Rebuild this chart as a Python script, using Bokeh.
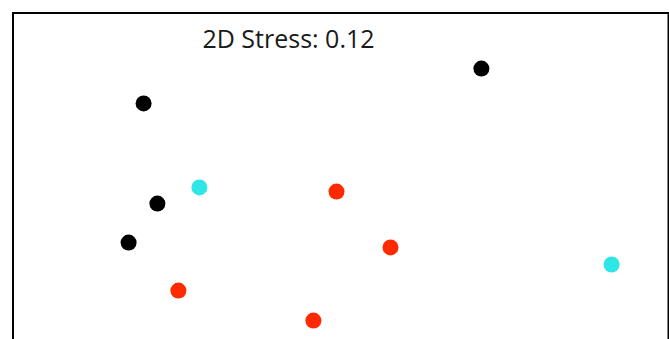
from bokeh.plotting import figure
from bokeh.models import ColumnDataSource, Range1d
from bokeh.core.properties import value
from bokeh.embed import file_html
from bokeh.resources import INLINE

# NMDS ordination scores per sample, grouped by treatment
black_x = [0.488, -0.638, -0.592, -0.688]
black_y = [0.338, 0.222, -0.112, -0.242]
cyan_x = [-0.452, 0.922]
cyan_y = [-0.058, -0.315]
red_x = [0.005, 0.185, -0.522, -0.072]
red_y = [-0.072, -0.258, -0.402, -0.502]

stress_label = "2D Stress: 0.12"
stress_pos = (-0.155, 0.439)

# plotting panel limits
x_lo, x_hi = -1.115, 1.115
y_lo, y_hi = -0.565, 0.565
box_left, box_right, box_top = -1.0733, 1.1117, 0.5233

p = figure(width=669, height=339, output_backend="svg", toolbar_location=None,
           x_range=Range1d(x_lo, x_hi), y_range=Range1d(y_lo, y_hi),
           min_border_left=0, min_border_right=0, min_border_top=0, min_border_bottom=0)
p.axis.visible = False
p.grid.visible = False
p.outline_line_color = None
p.background_fill_color = "white"
p.border_fill_color = "white"

# panel border (left, top, right edges; bottom runs past the page)
p.line(x=[box_left, box_left, box_right, box_right], y=[y_lo - 0.05, box_top, box_top, y_lo - 0.05],
       line_color="black", line_width=2, line_join="miter")

groups = [(black_x, black_y, "#000000"), (cyan_x, cyan_y, "#2FE6E6"), (red_x, red_y, "#FF2A00")]
for xs, ys, col in groups:
    src = ColumnDataSource(dict(x=xs, y=ys))
    p.scatter("x", "y", source=src, size=16, fill_color=col, line_color=None)

p.text(x=[stress_pos[0]], y=[stress_pos[1]], text=[stress_label], text_align="center",
       text_baseline="alphabetic", text_font=value("Open Sans"), text_font_size="25px",
       text_color="#1a1a1a")

open("out.html", "w").write(file_html(p, INLINE))
